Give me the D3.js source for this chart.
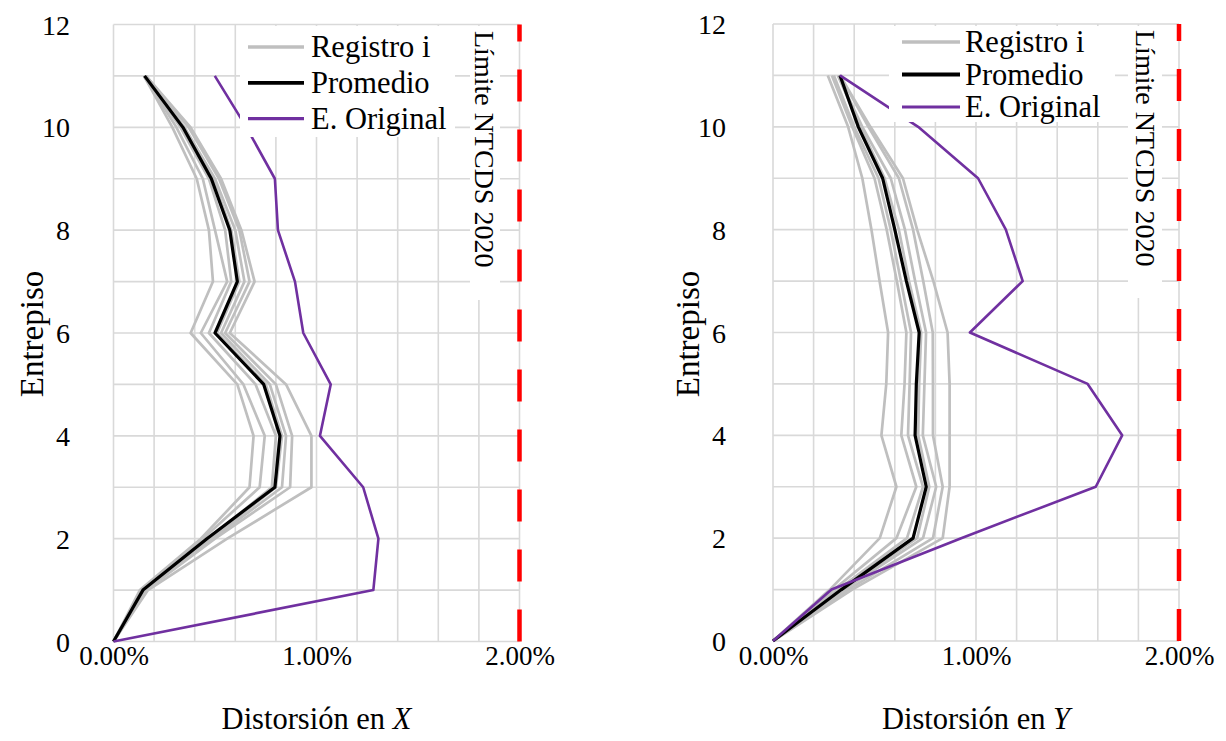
<!DOCTYPE html>
<html>
<head>
<meta charset="utf-8">
<script src="https://cdn.jsdelivr.net/npm/d3@7"></script>
<style>
  html, body { margin: 0; padding: 0; background: #ffffff; }
  svg { display: block; }
  svg text { font-family: "Liberation Serif", "Times New Roman", serif !important; fill: #000; }
</style>
</head>
<body>
<svg id="chart" width="1226" height="741"></svg>
<script>
// ---------------- data ----------------
const stories = [0, 1, 2, 3, 4, 5, 6, 7, 8, 9, 10, 11];
const yTicks = [0, 2, 4, 6, 8, 10, 12];
const xTicks = [0, 1, 2];               // in percent
const xGrid = [0, 0.2, 0.4, 0.6, 0.8, 1.0, 1.2, 1.4, 1.6, 1.8, 2.0];
const yGrid = [0, 1, 2, 3, 4, 5, 6, 7, 8, 9, 10, 11, 12];
const limitValue = 2.0;                 // Límite NTCDS 2020 (%)
const legendLabels = ["Registro i", "Promedio", "E. Original"];
const limitLabel = "Límite NTCDS 2020";

// Distortion in X (%), per story 0..11
const registrosX = [
  [0, 0.13, 0.43, 0.67, 0.69, 0.61, 0.38, 0.49, 0.47, 0.41, 0.29, 0.15],
  [0, 0.14, 0.44, 0.72, 0.745, 0.64, 0.43, 0.56, 0.50, 0.44, 0.31, 0.15],
  [0, 0.15, 0.47, 0.78, 0.80, 0.70, 0.47, 0.58, 0.55, 0.47, 0.33, 0.15],
  [0, 0.15, 0.48, 0.80, 0.83, 0.75, 0.51, 0.62, 0.58, 0.49, 0.345, 0.155],
  [0, 0.15, 0.49, 0.83, 0.85, 0.77, 0.53, 0.645, 0.60, 0.50, 0.35, 0.16],
  [0, 0.16, 0.50, 0.87, 0.88, 0.80, 0.55, 0.67, 0.62, 0.52, 0.37, 0.16],
  [0, 0.17, 0.56, 0.975, 0.975, 0.85, 0.573, 0.695, 0.63, 0.53, 0.38, 0.16]
];
const promedioX = [0, 0.145, 0.46, 0.795, 0.82, 0.74, 0.50, 0.61, 0.573, 0.482, 0.342, 0.153];
const originalX = [0, 1.28, 1.305, 1.23, 1.017, 1.07, 0.935, 0.894, 0.81, 0.795, 0.655, 0.499];

// Distortion in Y (%), per story 0..11
const registrosY = [
  [0, 0.28, 0.526, 0.608, 0.534, 0.558, 0.567, 0.525, 0.485, 0.44, 0.37, 0.27],
  [0, 0.30, 0.608, 0.706, 0.632, 0.648, 0.657, 0.61, 0.56, 0.50, 0.39, 0.29],
  [0, 0.32, 0.66, 0.739, 0.665, 0.673, 0.68, 0.63, 0.58, 0.52, 0.40, 0.30],
  [0, 0.34, 0.71, 0.77, 0.715, 0.72, 0.73, 0.67, 0.62, 0.55, 0.43, 0.32],
  [0, 0.35, 0.739, 0.804, 0.738, 0.746, 0.754, 0.70, 0.65, 0.58, 0.44, 0.32],
  [0, 0.37, 0.788, 0.836, 0.788, 0.788, 0.787, 0.74, 0.69, 0.62, 0.47, 0.33],
  [0, 0.39, 0.836, 0.87, 0.87, 0.87, 0.86, 0.79, 0.71, 0.64, 0.48, 0.33]
];
const promedioY = [0, 0.337, 0.69, 0.755, 0.70, 0.706, 0.72, 0.657, 0.60, 0.54, 0.42, 0.33];
const originalY = [0, 0.288, 0.927, 1.59, 1.72, 1.55, 0.97, 1.23, 1.147, 1.01, 0.715, 0.33];

// ---------------- styles ----------------
const colors = { registro: "#bfbfbf", promedio: "#000000", original: "#7030a0", limit: "#ff0000", grid: "#d9d9d9" };
const serif = "'Liberation Serif', 'Times New Roman', serif";

const svg = d3.select("#chart");

function drawPanel(cfg) {
  const x = d3.scaleLinear().domain([0, 2]).range([cfg.x0, cfg.x1]);
  const y = d3.scaleLinear().domain([0, 12]).range([cfg.y0, cfg.y1]);
  const g = svg.append("g");

  // grid
  g.selectAll(".vg").data(xGrid).enter().append("line")
    .attr("x1", d => x(d)).attr("x2", d => x(d))
    .attr("y1", y(0)).attr("y2", y(12))
    .attr("stroke", colors.grid).attr("stroke-width", 1.6);
  g.selectAll(".hg").data(yGrid).enter().append("line")
    .attr("x1", x(0)).attr("x2", x(2))
    .attr("y1", d => y(d)).attr("y2", d => y(d))
    .attr("stroke", colors.grid).attr("stroke-width", 1.6);

  // y axis tick labels
  const yAxis = d3.axisLeft(y).tickValues(yTicks).tickSize(0).tickPadding(0).tickFormat(d3.format("d"));
  const ya = g.append("g").attr("transform", `translate(${cfg.yLabelX},0)`).call(yAxis);
  ya.attr("font-family", serif);
  ya.select(".domain").remove();
  ya.selectAll("text").style("font-family", serif).attr("font-size", 28).attr("dy", "0.34em");

  // x axis tick labels
  const xAxis = d3.axisBottom(x).tickValues(xTicks).tickSize(0).tickPadding(0)
    .tickFormat(d => d3.format(".2f")(d) + "%");
  const xa = g.append("g").attr("transform", `translate(0,${cfg.xLabelY})`).call(xAxis);
  xa.attr("font-family", serif);
  xa.select(".domain").remove();
  xa.selectAll("text").style("font-family", serif).attr("font-size", 27).attr("dy", "0");

  const line = d3.line().x(d => x(d[0])).y(d => y(d[1]));
  const pts = arr => arr.map((v, i) => [v, stories[i]]);

  // registros
  cfg.registros.forEach(r => {
    g.append("path").attr("d", line(pts(r))).attr("fill", "none")
      .attr("stroke", colors.registro).attr("stroke-width", 2.7).attr("stroke-linejoin", "round");
  });
  g.append("path").attr("d", line(pts(cfg.promedio))).attr("fill", "none")
    .attr("stroke", colors.promedio).attr("stroke-width", 3.2).attr("stroke-linejoin", "round");
  g.append("path").attr("d", line(pts(cfg.original))).attr("fill", "none")
    .attr("stroke", colors.original).attr("stroke-width", 2.6).attr("stroke-linejoin", "round");

  // limit
  g.append("line")
    .attr("x1", x(limitValue)).attr("x2", x(limitValue))
    .attr("y1", y(0)).attr("y2", y(12))
    .attr("stroke", colors.limit).attr("stroke-width", 4.5).attr("stroke-dasharray", "32,28");

  // legend
  g.append("rect").attr("x", cfg.leg.bx).attr("y", cfg.leg.by).attr("width", cfg.leg.bw).attr("height", cfg.leg.bh).attr("fill", "#fff");
  const legColors = [colors.registro, colors.promedio, colors.original];
  const legWidths = [2.7, 3.2, 2.6];
  legendLabels.forEach((lab, i) => {
    const yy = cfg.leg.y + i * cfg.leg.dy;
    g.append("line").attr("x1", cfg.leg.lx0).attr("x2", cfg.leg.lx1).attr("y1", yy).attr("y2", yy)
      .attr("stroke", legColors[i]).attr("stroke-width", legWidths[i] + 0.6);
    g.append("text").attr("x", cfg.leg.tx).attr("y", yy).attr("dy", "0.33em")
      .style("font-family", serif).attr("font-size", 30.5).text(lab);
  });

  // limit label
  g.append("rect").attr("x", cfg.lim.bx).attr("y", cfg.lim.by).attr("width", cfg.lim.bw).attr("height", cfg.lim.bh).attr("fill", "#fff");
  g.append("text").attr("transform", `translate(${cfg.lim.x},${cfg.lim.y}) rotate(90)`)
    .style("font-family", serif).attr("font-size", 28).attr("dy", "0.33em").text(limitLabel);

  // axis titles
  const t = g.append("text").attr("x", (cfg.x0 + cfg.x1) / 2).attr("y", cfg.titleY)
    .style("font-family", serif).attr("text-anchor", "middle").attr("font-size", 30.5);
  t.append("tspan").text("Distorsión en ");
  t.append("tspan").attr("font-style", "italic").text(cfg.axisLetter);

  g.append("text").attr("transform", `translate(${cfg.yTitleX},${cfg.yTitleY}) rotate(-90)`)
    .style("font-family", serif).attr("text-anchor", "middle").attr("font-size", 33).text("Entrepiso");
}

drawPanel({
  x0: 113.5, x1: 519.5, y0: 641.5, y1: 24.5,
  yLabelX: 70, xLabelY: 665, titleY: 729, yTitleX: 43, yTitleY: 334,
  registros: registrosX, promedio: promedioX, original: originalX, axisLetter: "X",
  leg: { bx: 240, by: 26, bw: 215, bh: 111, y: 47, dy: 35.8, lx0: 248, lx1: 304, tx: 311 },
  lim: { bx: 470, by: 26, bw: 30, bh: 274, x: 484, y: 31 }
});

drawPanel({
  x0: 773, x1: 1179, y0: 641, y1: 24,
  yLabelX: 726, xLabelY: 665, titleY: 729, yTitleX: 699, yTitleY: 334,
  registros: registrosY, promedio: promedioY, original: originalY, axisLetter: "Y",
  leg: { bx: 889, by: 26, bw: 226, bh: 96, y: 42, dy: 32.5, lx0: 902, lx1: 960, tx: 965 },
  lim: { bx: 1128, by: 26, bw: 34, bh: 272, x: 1145, y: 30 }
});
</script>
</body>
</html>
